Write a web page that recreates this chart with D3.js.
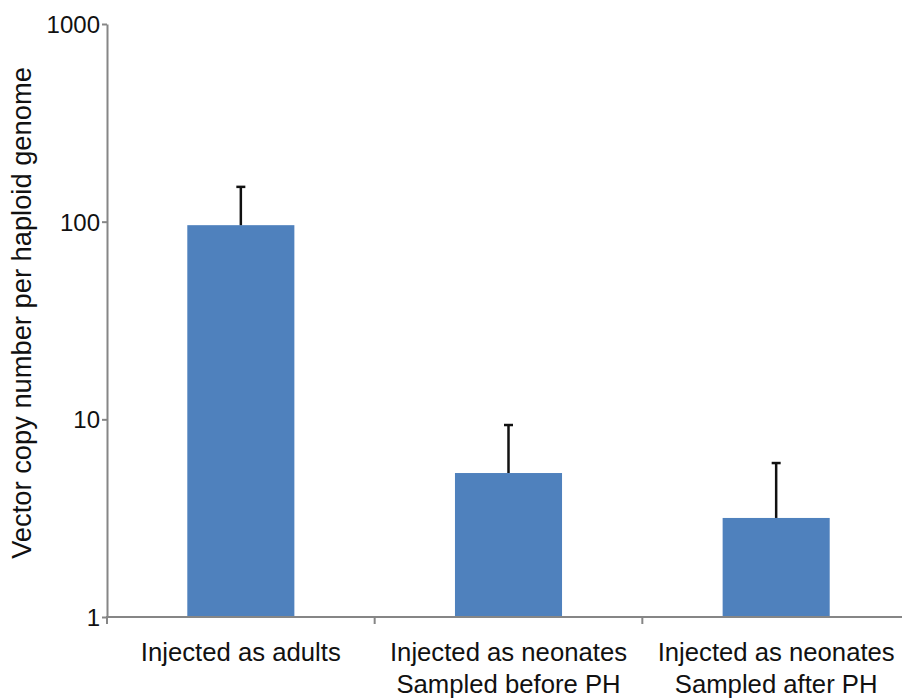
<!DOCTYPE html>
<html><head><meta charset="utf-8">
<script src="https://cdn.jsdelivr.net/npm/d3@7"></script>
<style>body{margin:0;background:#fff}svg{display:block}text{font-family:"Liberation Sans",Arial,sans-serif;fill:#111}</style>
</head><body><svg id="c" width="902" height="698"></svg>
<script>
const categories = [["Injected as adults"],["Injected as neonates","Sampled before PH"],["Injected as neonates","Sampled after PH"]];
const values = [96, 5.35, 3.17];
const errorTops = [150, 9.36, 6.01];
const yTicks = [1, 10, 100, 1000];
const yTitle = "Vector copy number per haploid genome";

const svg = d3.select("#c");
const x0 = 107, x1 = 910, yTop = 24, yBot = 617;
const x = d3.scaleBand().domain(d3.range(categories.length)).range([x0, x1]).paddingInner(0.6).paddingOuter(0.3);
const y = d3.scaleLog().domain([1, 1000]).range([yBot, yTop]);

// bars
svg.selectAll("rect.bar").data(values).enter().append("rect")
  .attr("x",(d,i)=>x(i)).attr("width",x.bandwidth())
  .attr("y",d=>y(d)).attr("height",d=>yBot-y(d)).attr("fill","#4F81BD");

// error bars
const eg = svg.append("g").attr("stroke","#111").attr("stroke-width",2.5);
errorTops.forEach((e,i)=>{
  const cx = x(i)+x.bandwidth()/2;
  eg.append("line").attr("x1",cx).attr("x2",cx).attr("y1",y(values[i])).attr("y2",y(e));
  eg.append("line").attr("x1",cx-4.5).attr("x2",cx+4.5).attr("y1",y(e)).attr("y2",y(e));
});

// y axis
const ya = svg.append("g").attr("transform",`translate(${x0},0)`)
  .call(d3.axisLeft(y).tickValues(yTicks).tickFormat(d3.format("d")).tickSize(5).tickSizeOuter(0));
ya.select(".domain").attr("stroke","#868686").attr("stroke-width",2);
ya.selectAll(".tick line").attr("stroke","#868686").attr("stroke-width",2);
ya.selectAll(".tick text").attr("font-size",24).attr("x",-7).attr("dy","0.35em").attr("fill","#111");

// x axis
const band = (x1-x0)/categories.length;
const xa = svg.append("g").attr("transform",`translate(0,${yBot})`);
xa.append("line").attr("x1",x0-1).attr("x2",x1).attr("y1",0).attr("y2",0).attr("stroke","#868686").attr("stroke-width",2);
d3.range(categories.length+1).forEach(i=>{
  const tx = x0 + i*band;
  xa.append("line").attr("x1",tx).attr("x2",tx).attr("y1",0).attr("y2",7).attr("stroke","#868686").attr("stroke-width",2);
});
categories.forEach((lines,i)=>{
  const cx = x(i)+x.bandwidth()/2;
  const t = xa.append("text").attr("text-anchor","middle").attr("font-size",25.7);
  lines.forEach((l,j)=>t.append("tspan").attr("x",cx).attr("y",44+j*32).text(l));
});

// y title
svg.append("text").attr("transform",`translate(31,313) rotate(-90)`)
  .attr("text-anchor","middle").attr("font-size",27.3).text(yTitle);
</script></body></html>
